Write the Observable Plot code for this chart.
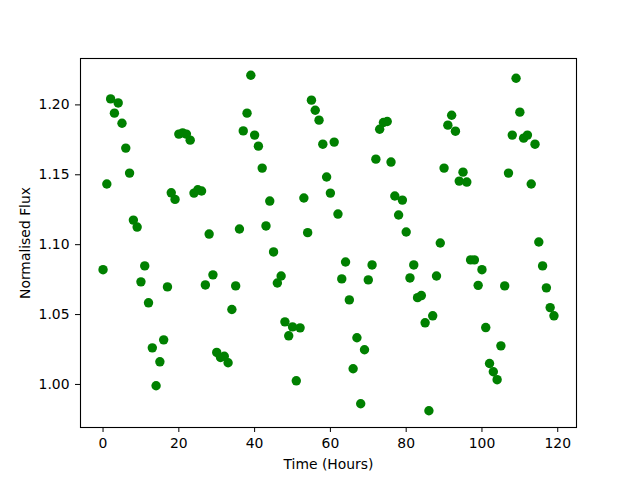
<!DOCTYPE html>
<html><head><meta charset="utf-8">
<script src="https://cdn.jsdelivr.net/npm/d3@7"></script>
<script src="https://cdn.jsdelivr.net/npm/@observablehq/plot@0.6"></script>
<style>html,body{margin:0;padding:0;background:#fff}</style>
</head><body><div id="chart"></div>
<script>
const timeHours = [0,1,2,3,4,5,6,7,8,9,10,11,12,13,14,15,16,17,18,19,20,21,22,23,24,25,26,27,28,29,30,31,32,33,34,35,36,37,38,39,40,41,42,43,44,45,46,47,48,49,50,51,52,53,54,55,56,57,58,59,60,61,62,63,64,65,66,67,68,69,70,71,72,73,74,75,76,77,78,79,80,81,82,83,84,85,86,87,88,89,90,91,92,93,94,95,96,97,98,99,100,101,102,103,104,105,106,107,108,109,110,111,112,113,114,115,116,117,118,119];
const flux = [
1.0821,1.1434,1.2043,1.1941,1.2014,1.1869,1.1691,1.1512,1.1176,1.1126,
1.0734,1.0848,1.0584,1.0262,0.9991,1.0162,1.0319,1.0698,1.1371,1.1324,
1.1791,1.1800,1.1791,1.1748,1.1369,1.1393,1.1384,1.0712,1.1076,1.0784,
1.0229,1.0193,1.0202,1.0155,1.0536,1.0705,1.1112,1.1814,1.1941,1.2212,
1.1784,1.1705,1.1548,1.1134,1.1312,1.0948,1.0726,1.0776,1.0448,1.0348,
1.0412,1.0026,1.0405,1.1334,1.1086,1.2034,1.1962,1.1891,1.1719,1.1484,
1.1369,1.1734,1.1219,1.0755,1.0876,1.0605,1.0112,1.0334,0.9862,1.0248,
1.0748,1.0855,1.1612,1.1826,1.1874,1.1881,1.1591,1.1348,1.1212,1.1319,
1.1091,1.0762,1.0855,1.0621,1.0636,1.0441,0.9812,1.0491,1.0776,1.1012,
1.1548,1.1855,1.1926,1.1812,1.1455,1.1519,1.1448,1.0891,1.0891,1.0709,
1.0821,1.0407,1.0150,1.0091,1.0034,1.0276,1.0705,1.1512,1.1784,1.2191,
1.1948,1.1762,1.1784,1.1434,1.1719,1.1019,1.0848,1.0691,1.0550,1.0491
];
const xTicks = [0, 20, 40, 60, 80, 100, 120];
const yTicks = [1.00, 1.05, 1.10, 1.15, 1.20];
const xLabel = "Time (Hours)";
const yLabel = "Normalised Flux";

const data = timeHours.map((t, i) => ({t, f: flux[i]}));

const chart = Plot.plot({
  width: 640, height: 480,
  marginLeft: 80, marginRight: 64, marginTop: 58, marginBottom: 53,
  style: {fontFamily: "DejaVu Sans", fontSize: "13.9px", background: "white", color: "black"},
  x: {domain: [-5.95, 124.95], ticks: xTicks, tickFormat: d => String(d),
      label: xLabel, labelAnchor: "center", labelArrow: false, labelOffset: 41,
      tickSize: 5, tickPadding: 6},
  y: {domain: [0.9692, 1.2332], ticks: yTicks, tickFormat: d3.format(".2f"),
      label: yLabel, labelAnchor: "center", labelArrow: false, labelOffset: 60,
      tickSize: 5, tickPadding: 6},
  marks: [
    Plot.frame({stroke: "black", strokeWidth: 1.1}),
    Plot.dot(data, {x: "t", y: "f", r: 4.7, fill: "#008000", stroke: "none"})
  ]
});
document.getElementById("chart").appendChild(chart);
</script>
</body></html>
